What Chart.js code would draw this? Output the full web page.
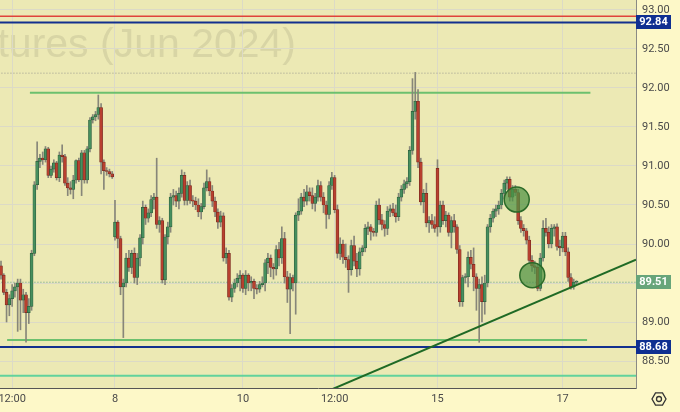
<!DOCTYPE html>
<html>
<head>
<meta charset="utf-8">
<script src="https://cdn.jsdelivr.net/npm/chart.js@4.4.1/dist/chart.umd.min.js"></script>
<style>
  html, body { margin: 0; padding: 0; background: #fdf8c8; }
  #wrap { width: 680px; height: 412px; }
</style>
</head>
<body>
<div id="wrap"><canvas id="c" width="680" height="412"></canvas></div>
<script>
// hourly candles, index = bar number
var opens = [89.72,89.60,89.38,89.22,89.30,89.40,89.45,89.50,89.28,89.35,89.12,89.20,89.88,90.76,91.06,91.10,91.08,91.22,90.88,90.96,
  91.04,90.85,91.14,91.12,90.78,90.72,90.70,90.82,91.07,90.82,91.17,90.82,91.22,91.59,91.63,91.66,91.75,91.05,90.94,90.93,
  90.90,90.09,90.28,90.07,89.45,89.50,89.82,89.70,89.88,89.57,89.82,90.08,90.47,90.33,90.40,90.57,90.60,90.25,90.30,89.54,
  90.09,90.22,90.60,90.62,90.55,90.65,90.88,90.56,90.75,90.56,90.55,90.50,90.41,90.48,90.72,90.80,90.68,90.55,90.41,90.28,
  90.36,89.82,89.88,89.32,89.43,89.50,89.56,89.60,89.43,89.60,89.50,89.52,89.43,89.42,89.48,89.50,89.76,89.82,89.70,89.68,
  89.93,89.82,90.07,89.58,89.42,89.57,89.50,90.37,90.42,90.60,90.55,90.67,90.62,90.52,90.60,90.75,90.60,90.50,90.38,90.75,
  90.85,90.44,89.88,90.00,89.83,89.80,89.67,89.98,89.78,89.68,89.90,89.95,90.20,90.22,90.16,90.15,90.50,90.31,90.25,90.20,
  90.42,90.45,90.40,90.35,90.60,90.70,90.77,90.80,91.20,91.70,91.83,91.05,90.54,90.65,90.27,90.30,90.25,90.97,90.22,90.50,
  90.30,90.37,90.15,90.30,90.22,89.93,89.26,89.57,89.58,89.83,89.74,89.58,89.43,89.48,89.26,89.50,90.22,90.33,90.42,90.45,
  90.50,90.65,90.78,90.83,90.60,90.70,90.66,90.30,90.20,90.17,90.05,89.79,89.72,89.70,89.43,89.82,90.20,90.15,90.00,90.20,
  90.22,89.97,89.95,90.10,89.90,89.57,89.45,89.51];
var highs = [89.78,89.62,89.42,89.35,89.48,89.50,89.55,89.55,89.42,89.38,89.30,89.92,90.80,91.31,91.15,91.18,91.25,91.24,91.00,91.08,
  91.06,91.18,91.27,91.15,90.85,90.80,90.88,91.08,91.10,91.20,91.20,91.25,91.62,91.66,91.70,91.91,91.80,91.08,90.98,90.96,
  90.93,90.56,90.30,90.10,89.55,89.88,89.92,89.92,89.95,89.88,90.12,90.55,90.50,90.45,90.62,90.65,91.10,90.35,90.33,90.12,
  90.28,90.65,90.70,90.68,90.72,90.95,90.92,90.80,90.82,90.62,90.60,90.58,90.52,90.78,90.95,90.85,90.75,90.60,90.45,90.42,
  90.40,89.95,89.92,89.48,89.55,89.62,89.66,89.62,89.66,89.62,89.58,89.55,89.48,89.52,89.58,89.80,89.88,89.86,89.75,89.98,
  90.02,90.22,90.15,89.65,89.62,89.60,90.40,90.58,90.65,90.70,90.75,90.72,90.72,90.65,90.82,90.80,90.66,90.55,90.80,90.92,
  90.88,90.50,90.08,90.05,90.00,89.85,90.05,90.10,89.88,89.95,89.98,90.25,90.28,90.25,90.20,90.55,90.58,90.38,90.30,90.48,
  90.50,90.52,90.50,90.65,90.75,90.82,90.85,91.25,92.12,92.20,91.98,91.10,90.70,90.78,90.35,90.38,90.35,91.08,90.55,90.55,
  90.42,90.40,90.35,90.38,90.25,89.98,89.60,89.62,89.90,89.92,89.95,89.62,89.55,89.58,89.60,90.25,90.38,90.45,90.50,90.55,
  90.70,90.82,90.86,90.86,90.75,90.75,90.70,90.35,90.25,90.20,90.10,89.85,89.78,89.75,89.88,90.30,90.33,90.22,90.25,90.25,
  90.26,90.05,90.15,90.15,89.95,89.62,89.55,89.53];
var lows = [89.55,89.35,89.00,89.08,89.20,89.32,88.88,88.90,89.12,88.74,88.98,89.15,89.85,90.70,90.98,91.02,91.05,90.85,90.85,90.92,
  90.82,90.80,91.05,90.75,90.62,90.64,90.58,90.78,90.80,90.62,90.78,90.78,91.18,91.55,91.58,91.60,90.90,90.70,90.88,90.86,
  90.84,90.05,89.95,89.35,88.80,89.45,89.65,89.62,89.50,89.48,89.72,90.00,90.25,90.28,90.35,90.45,90.20,90.15,89.50,89.48,
  90.00,90.15,90.50,90.48,90.45,90.60,90.50,90.50,90.52,90.48,90.44,90.35,90.32,90.45,90.68,90.62,90.48,90.35,90.20,90.22,
  89.78,89.75,89.28,89.26,89.38,89.45,89.40,89.38,89.35,89.40,89.40,89.30,89.36,89.38,89.45,89.40,89.62,89.58,89.55,89.60,
  89.72,89.75,89.50,89.25,88.85,89.40,89.10,90.30,90.38,90.48,90.50,90.55,90.45,90.42,90.55,90.55,90.40,90.20,90.32,90.70,
  90.40,89.82,89.80,89.75,89.70,89.38,89.60,89.72,89.58,89.60,89.85,89.90,90.12,90.05,90.10,90.10,90.25,90.18,90.10,90.12,
  90.35,90.36,90.28,90.30,90.55,90.65,90.72,90.75,91.15,91.60,90.98,90.50,90.40,90.22,90.15,90.20,90.15,90.10,90.15,90.25,
  90.22,90.10,89.95,90.15,89.88,89.20,89.20,89.50,89.45,89.68,89.40,89.15,88.74,89.00,89.10,89.45,90.15,90.28,90.35,90.38,
  90.45,90.58,90.70,90.55,90.55,90.62,90.25,90.15,90.10,90.00,89.75,89.65,89.62,89.40,89.40,89.78,90.10,89.95,89.95,90.10,
  89.92,89.85,89.90,89.85,89.52,89.42,89.42,89.49];
var closes = [89.60,89.38,89.22,89.30,89.40,89.45,89.50,89.28,89.35,89.12,89.20,89.88,90.76,91.06,91.10,91.08,91.22,90.88,90.96,91.04,
  90.85,91.14,91.12,90.78,90.72,90.70,90.82,91.07,90.82,91.17,90.82,91.22,91.59,91.63,91.66,91.75,91.05,90.94,90.93,90.90,
  90.86,90.28,90.07,89.45,89.50,89.82,89.70,89.88,89.57,89.82,90.08,90.47,90.33,90.40,90.57,90.60,90.25,90.30,89.54,90.09,
  90.22,90.60,90.62,90.55,90.65,90.88,90.56,90.75,90.56,90.55,90.50,90.41,90.48,90.72,90.80,90.68,90.55,90.41,90.28,90.36,
  89.82,89.88,89.32,89.43,89.50,89.56,89.60,89.43,89.60,89.50,89.52,89.43,89.42,89.48,89.50,89.76,89.82,89.70,89.68,89.93,
  89.82,90.07,89.58,89.42,89.57,89.50,90.37,90.42,90.60,90.55,90.67,90.62,90.52,90.60,90.75,90.60,90.50,90.38,90.75,90.85,
  90.44,89.88,90.00,89.83,89.80,89.67,89.98,89.78,89.68,89.90,89.95,90.20,90.22,90.16,90.15,90.50,90.31,90.25,90.20,90.42,
  90.45,90.40,90.35,90.60,90.70,90.77,90.80,91.20,91.70,91.83,91.05,90.54,90.65,90.27,90.30,90.25,90.20,90.22,90.50,90.30,
  90.37,90.15,90.30,90.22,89.93,89.26,89.57,89.58,89.83,89.74,89.58,89.43,89.48,89.26,89.50,90.22,90.33,90.42,90.45,90.50,
  90.65,90.78,90.83,90.60,90.70,90.66,90.30,90.20,90.17,90.05,89.79,89.72,89.70,89.43,89.82,90.20,90.15,90.00,90.20,90.22,
  89.97,89.95,90.10,89.90,89.57,89.45,89.51,89.51];

// time axis labels (bar index where each label sits)
var timeTickIdx = [4, 41, 87, 120, 157, 202];
var timeTickLabels = ['12:00', '8', '10', '12:00', '15', '17'];
var priceTicks = [88.5, 89, 89.5, 90, 90.5, 91, 91.5, 92, 92.5, 93];

// drawn levels: price, first bar, last bar
var levelPrices = [92.84, 92.92, 92.19, 91.94, 89.51, 88.77, 88.68, 88.31];
var levelFrom = [-2, -2, -2, 10.4, -2, 2.2, -2, -2];
var levelTo = [232, 232, 232, 212.0, 232, 210.8, 232, 232];

// trend line [bar, price]
var trendA = [110, 88.00];
var trendB = [228.4, 89.80];

// marked circles [bar, price]
var circleBars = [185.5, 191.1];
var circlePrices = [90.57, 89.60];

// axis price tags
var tagPrices = [92.84, 89.51, 88.68];

var UP = '#468f5e', DOWN = '#b8402f';
var UP_EDGE = '#2d5e3d', DOWN_EDGE = '#7a2a20';
var levelStyles = [
  { color: '#12308e', width: 2 },
  { color: '#e0443a', width: 1.5 },
  { color: '#9c9a90', width: 1, dash: [1, 2] },
  { color: '#6cc06e', width: 2 },
  { color: '#5a9a8e', width: 1, dash: [1, 2] },
  { color: '#6cc06e', width: 2 },
  { color: '#12308e', width: 2 },
  { color: '#62d29c', width: 2 }
];
var tagColors = ['#0f2f91', '#67a57a', '#0f2f91'];

var wickData = highs.map((h, i) => ({ x: i, y: [lows[i], h] }));
var bodyData = closes.map((c, i) => ({ x: i, y: [opens[i], c] }));
var isUp = closes.map((c, i) => c >= opens[i]);

var datasets = [];
levelPrices.forEach((p, k) => {
  var st = levelStyles[k];
  datasets.push({
    type: 'line',
    data: [{ x: levelFrom[k], y: p }, { x: levelTo[k], y: p }],
    borderColor: st.color,
    borderWidth: st.width,
    borderDash: st.dash || [],
    pointRadius: 0,
    fill: false,
    clip: 0,
    order: 10
  });
});
datasets.push({
  type: 'bar', data: wickData, backgroundColor: '#878679',
  barThickness: 1, grouped: false, order: 6
});
datasets.push({
  type: 'bar', data: bodyData,
  backgroundColor: isUp.map(u => u ? UP : DOWN),
  borderColor: isUp.map(u => u ? UP_EDGE : DOWN_EDGE),
  borderWidth: 0.7,
  borderSkipped: false,
  barThickness: 3, grouped: false, minBarLength: 1, order: 5
});
datasets.push({
  type: 'line',
  data: [{ x: trendA[0], y: trendA[1] }, { x: trendB[0], y: trendB[1] }],
  borderColor: '#1f6a25', borderWidth: 2, pointRadius: 0, fill: false, order: 2
});
datasets.push({
  type: 'line',
  data: circleBars.map((b, i) => ({ x: b, y: circlePrices[i] })),
  showLine: false,
  pointRadius: 12.5,
  pointBackgroundColor: 'rgba(78,145,66,0.72)',
  pointBorderColor: '#2b6a28',
  pointBorderWidth: 1.5,
  order: 1
});

var backdrop = {
  id: 'backdrop',
  beforeDraw(chart) {
    var ctx = chart.ctx, a = chart.chartArea;
    ctx.save();
    ctx.fillStyle = '#fdf8c8';
    ctx.fillRect(0, 0, chart.width, chart.height);
    ctx.fillStyle = '#ece9b4';
    ctx.fillRect(a.left, a.top, a.right - a.left, a.bottom - a.top);
    ctx.beginPath();
    ctx.rect(a.left, a.top, a.right - a.left, a.bottom - a.top);
    ctx.clip();
    ctx.font = '41px "Liberation Sans", Arial, sans-serif';
    ctx.fillStyle = '#d8d5a5';
    ctx.textAlign = 'right';
    ctx.textBaseline = 'alphabetic';
    ctx.fillText('Brent Crude Oil Futures (Jun 2024)', 296, 57);
    ctx.restore();
  },
  afterDraw(chart) {
    var ctx = chart.ctx, y = chart.scales.y, a = chart.chartArea;
    ctx.save();
    tagPrices.forEach((p, k) => {
      var py = Math.round(y.getPixelForValue(p));
      ctx.fillStyle = tagColors[k];
      ctx.fillRect(a.right, py - 7, 35, 14);
      ctx.fillStyle = '#ffffff';
      ctx.font = 'bold 11px Roboto, "Liberation Sans", sans-serif';
      ctx.textAlign = 'center';
      ctx.textBaseline = 'middle';
      ctx.fillText(p.toFixed(2), a.right + 17.5, py + 0.5);
    });
    // settings gear
    var cx = 659, cy = 399, r = 7;
    ctx.strokeStyle = '#333';
    ctx.lineWidth = 1.3;
    ctx.beginPath();
    for (var i = 0; i < 6; i++) {
      var ang = Math.PI / 3 * i;
      var px = cx + r * Math.cos(ang), qy = cy + r * Math.sin(ang);
      if (i === 0) ctx.moveTo(px, qy); else ctx.lineTo(px, qy);
    }
    ctx.closePath();
    ctx.stroke();
    ctx.beginPath();
    ctx.arc(cx, cy, 2.5, 0, Math.PI * 2);
    ctx.stroke();
    ctx.restore();
  }
};

Chart.defaults.font.family = 'Roboto, "Liberation Sans", sans-serif';

new Chart(document.getElementById('c'), {
  type: 'bar',
  data: { datasets: datasets },
  plugins: [backdrop],
  options: {
    responsive: false,
    animation: false,
    devicePixelRatio: 1,
    layout: { padding: 0, autoPadding: false },
    plugins: { legend: { display: false }, tooltip: { enabled: false } },
    scales: {
      x: {
        type: 'linear',
        min: -0.36,
        max: 228.4,
        offset: false,
        grid: { color: '#dcdac6', drawTicks: false, offset: false },
        border: { color: '#555555' },
        afterBuildTicks(s) { s.ticks = timeTickIdx.map(v => ({ value: v })); },
        afterFit(s) { s.height = 24; s.paddingLeft = 0; s.paddingRight = 0; },
        ticks: {
          padding: 5,
          color: '#4a4a4a',
          font: { size: 11 },
          maxRotation: 0,
          autoSkip: false,
          callback: v => timeTickLabels[timeTickIdx.indexOf(v)]
        }
      },
      y: {
        position: 'right',
        min: 88.154,
        max: 93.128,
        grid: { color: '#dcdac6', drawTicks: false },
        border: { color: '#8a8a84' },
        afterBuildTicks(s) { s.ticks = priceTicks.map(v => ({ value: v })); },
        afterFit(s) { s.width = 44; s.paddingTop = 0; s.paddingBottom = 0; },
        ticks: {
          padding: 6,
          color: '#4a4a4a',
          font: { size: 11 },
          callback: v => v.toFixed(2)
        }
      }
    }
  }
});
</script>
</body>
</html>
